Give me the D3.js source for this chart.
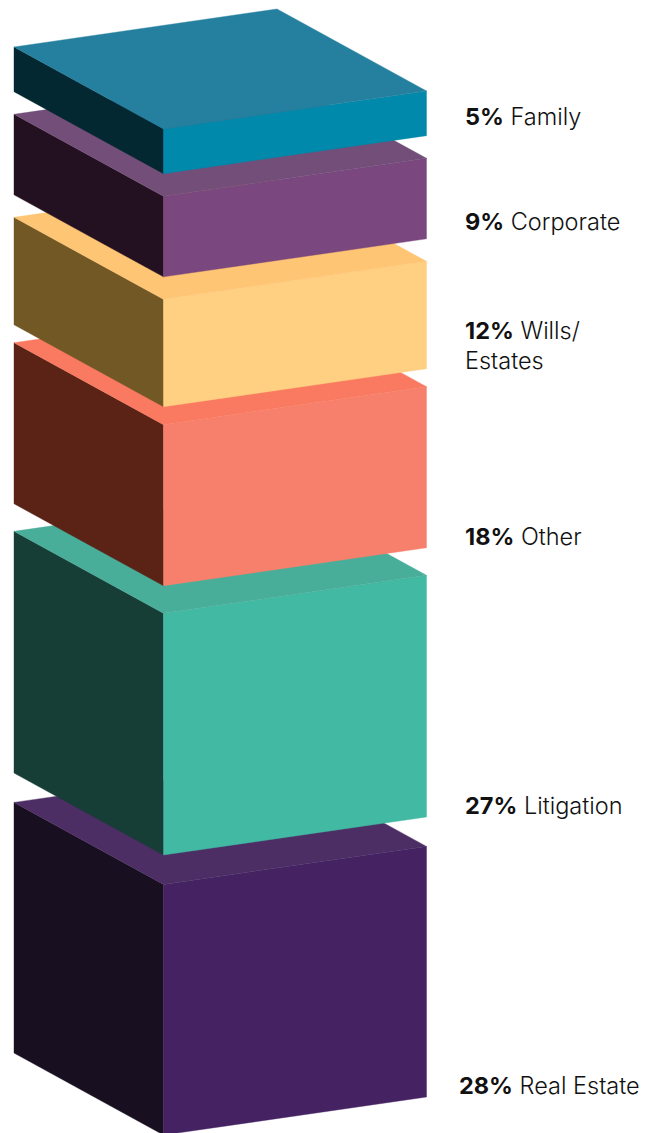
<!DOCTYPE html>
<html>
<head>
<meta charset="utf-8">
<style>
  html, body { margin: 0; padding: 0; background: #fff; }
  svg { display: block; }
  text { font-family: Inter, Roboto, sans-serif; fill: #111; }
</style>
<script src="https://cdn.jsdelivr.net/npm/d3@7"></script>
</head>
<body>
<svg id="chart" width="658" height="1133"></svg>
<script>
// Practice areas, bottom of the stack first
const categories = ["Real Estate", "Litigation", "Other", "Wills/|Estates", "Corporate", "Family"];
const shares = [28, 27, 18, 12, 9, 5];
const frontColors = ["#452363", "#42b9a3", "#f7806c", "#ffcf82", "#7a477e", "#0089ab"];
const topColors = ["#4c2d64", "#49ae99", "#f97a60", "#fec574", "#734e79", "#25809f"];
const sideColors = ["#180f20", "#163d36", "#5a2316", "#725825", "#231122", "#032831"];

// Gap between each block's front top corner and the underside of the block above
const gaps = [29.4, 27.6, 17.9, 22.5, 22.6];
const labelX = [459, 465, 465, 465, 465, 465];
const labelBaseline = [1094, 814, 545, 339, 230, 125];

const svg = d3.select("#chart");
const thickness = d3.scaleLinear().domain([0, 28]).range([0, 250.6]);

// Oblique projection of the block footprint: u runs along the right face, v along the left face
const projX = d3.scaleLinear().domain([0, 1]).range([0, 263]);
const projY = d3.scaleLinear().domain([0, 1]).range([0, -38]);
const depthX = d3.scaleLinear().domain([0, 1]).range([0, -149.5]);
const depthY = d3.scaleLinear().domain([0, 1]).range([0, -82]);
const frontX = 163.5;
const poly = d3.line().x(d => d[0]).y(d => d[1]);

function corner(u, v, y) {
  return [frontX + projX(u) + depthX(v), y + projY(u) + depthY(v)];
}

// The lowest block runs just past the bottom edge of the page
let bottom = 1135;
const blocks = shares.map((s, i) => {
  const h = thickness(s);
  const b = { i, bottom, top: bottom - h };
  bottom = b.top - (gaps[i] || 0);
  return b;
});

const g = svg.selectAll("g.block").data(blocks).join("g").attr("class", "block");

// A hairline in each face's own colour closes the antialiasing seams between faces
function face(fill, points) {
  g.append("path")
    .attr("fill", d => fill[d.i])
    .attr("stroke", d => fill[d.i])
    .attr("stroke-width", 0.4)
    .attr("d", d => poly(points(d)) + "Z");
}

face(sideColors, d => [corner(0, 0, d.top), corner(0, 1, d.top), corner(0, 1, d.bottom), corner(0, 0, d.bottom)]);
face(frontColors, d => [corner(0, 0, d.top), corner(1, 0, d.top), corner(1, 0, d.bottom), corner(0, 0, d.bottom)]);
face(topColors, d => [corner(0, 0, d.top), corner(1, 0, d.top), corner(1, 1, d.top), corner(0, 1, d.top)]);

// Labels: bold share followed by the practice name, wrapped at "|"
const fontSize = 23.5;
const labels = svg.selectAll("text.label").data(categories).join("text")
  .attr("class", "label")
  .attr("font-size", fontSize)
  .attr("x", (d, i) => labelX[i])
  .attr("y", (d, i) => labelBaseline[i]);
labels.append("tspan").attr("font-weight", 700).text((d, i) => shares[i] + "%");
labels.append("tspan").attr("font-weight", 300).text(d => " " + d.split("|")[0]);
labels.filter(d => d.includes("|")).append("tspan")
  .attr("font-weight", 300)
  .attr("x", (d) => labelX[categories.indexOf(d)])
  .attr("dy", 30)
  .text(d => d.split("|")[1]);
</script>
</body>
</html>
